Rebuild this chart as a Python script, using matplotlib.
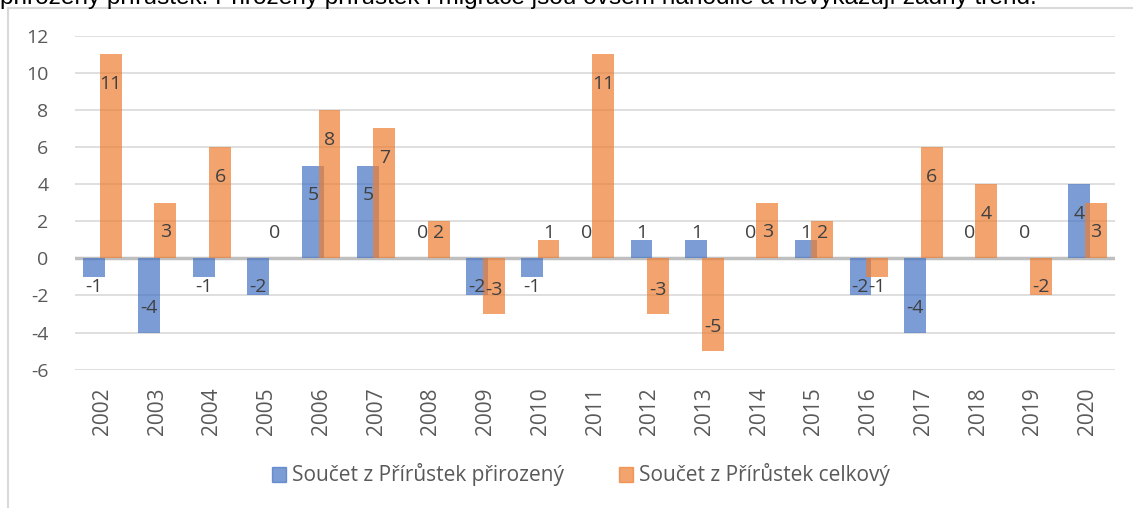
import matplotlib.pyplot as plt
import numpy as np
from matplotlib.patches import Patch, Rectangle

plt.rcParams["font.family"] = ["Open Sans", "DejaVu Sans"]
plt.rcParams["axes.unicode_minus"] = False

years = ["2002", "2003", "2004", "2005", "2006", "2007", "2008", "2009", "2010", "2011",
         "2012", "2013", "2014", "2015", "2016", "2017", "2018", "2019", "2020"]
prirozeny = [-1, -4, -1, -2, 5, 5, 0, -2, -1, 0, 1, 1, 0, 1, -2, -4, 0, 0, 4]
celkovy = [11, 3, 6, 0, 8, 7, 2, -3, 1, 11, -3, -5, 3, 2, -1, 6, 4, -2, 3]
series_names = ["Součet z Přírůstek přirozený", "Součet z Přírůstek celkový"]
yticks = [-6, -4, -2, 0, 2, 4, 6, 8, 10, 12]
top_text = ("přirozený přírůstek. Přirozený přírůstek i migrace jsou ovšem nahodilé "
            "a nevykazují žádný trend.")

BLUE = "#4472C4"
ORANGE = "#ED7D31"
GRID = "#d9d9d9"
TXT = "#595959"
LBL = "#404040"


def label_y(v):
    # Excel-like "inside end" placement seen in the chart
    if v >= 0:
        return max(v - 1.6, 1.35)
    return min(v + 1.3, -1.55)


W, H = 1133, 508
fig = plt.figure(figsize=(W / 100, H / 100), dpi=100)

# chart frame
fig.patches.append(Rectangle((8 / W, -0.1), 1.2, 1.1 - 8 / H, transform=fig.transFigure,
                             facecolor="none", edgecolor=GRID, linewidth=1.5))
# line of the surrounding document, cut by the screenshot edge
fig.text(0.0, 1 - 4 / H, top_text, fontsize=17.6, color="black", family="Liberation Sans",
         va="baseline", ha="left")

ax = fig.add_axes([75 / W, 1 - 369.6 / H, 1040 / W, (369.6 - 35.7) / H])
x = np.arange(len(years))
bw, off = 0.4, 0.15
ax.bar(x - off, prirozeny, bw, color=BLUE, alpha=0.7, zorder=3)
ax.bar(x + off, celkovy, bw, color=ORANGE, alpha=0.7, zorder=4)

for xi, v in zip(x, prirozeny):
    ax.text(xi - off, label_y(v), str(v), ha="center", va="center", fontsize=14,
            color=LBL, zorder=5)
for xi, v in zip(x, celkovy):
    ax.text(xi + off, label_y(v), str(v), ha="center", va="center", fontsize=14,
            color=LBL, zorder=5)

ax.set_xlim(-0.5, len(years) - 0.5)
ax.set_ylim(-6, 12)
ax.set_yticks(yticks)
ax.yaxis.grid(True, color=GRID, linewidth=1.2, zorder=0)
ax.axhline(0, color="#bfbfbf", linewidth=2.5, zorder=2)
for s in ax.spines.values():
    s.set_visible(False)
ax.tick_params(axis="both", length=0, colors=TXT)
ax.tick_params(axis="y", pad=19, labelsize=14)
ax.tick_params(axis="x", pad=13, labelsize=15)
ax.set_xticks(x)
ax.set_xticklabels(years, rotation=90)

handles = [Patch(color=BLUE, alpha=0.7), Patch(color=ORANGE, alpha=0.7)]
fig.legend(handles, series_names, loc="center", bbox_to_anchor=(581 / W, 1 - 475 / H),
           ncol=2, frameon=False, fontsize=15, labelcolor=TXT, handlelength=0.7,
           handleheight=0.7, handletextpad=0.3, columnspacing=2.6)

fig.savefig("out.png", dpi=100)
